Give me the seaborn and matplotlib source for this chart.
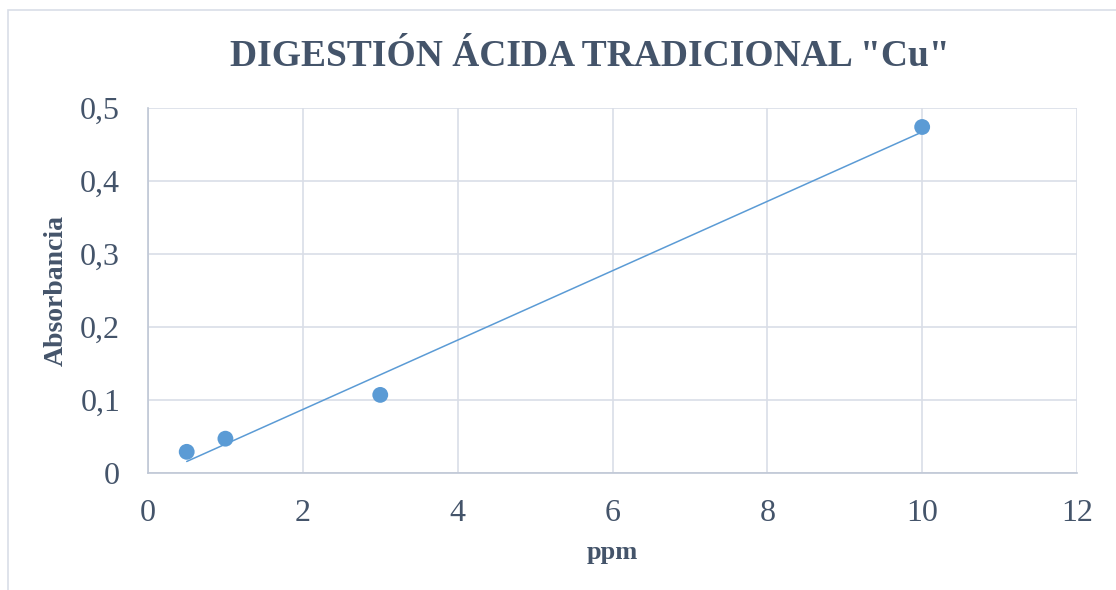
import matplotlib
matplotlib.use("Agg")
import matplotlib.pyplot as plt
import seaborn as sns
import pandas as pd
from matplotlib.patches import Rectangle

ppm = [0.5, 1, 3, 10]
absorbancia = [0.029, 0.047, 0.107, 0.474]
x_ticks = [0, 2, 4, 6, 8, 10, 12]
y_ticks = [0, 0.1, 0.2, 0.3, 0.4, 0.5]
y_tick_labels = ["0", "0,1", "0,2", "0,3", "0,4", "0,5"]
x_tick_labels = ["0", "2", "4", "6", "8", "10", "12"]
title = 'DIGESTIÓN ÁCIDA TRADICIONAL "Cu"'

sns.set_style("white")
plt.rcParams['font.family'] = ['Liberation Serif', 'DejaVu Serif']

df = pd.DataFrame({"ppm": ppm, "Absorbancia": absorbancia})

txt = "#44546A"
grid_c = "#D9DEE7"
blue = "#5B9BD5"

fig = plt.figure(figsize=(11.16, 5.9), dpi=100)
ax = fig.add_axes([148/1116, 1-473/590, (1077-148)/1116, (473-108)/590])

# outer chart border
fig.patches.append(Rectangle((8/1116, -0.1), 1.2, 1-10/590+0.1, transform=fig.transFigure,
                             fill=False, edgecolor="#D9DEE7", linewidth=1.2))

sns.regplot(data=df, x="ppm", y="Absorbancia", ax=ax, ci=None, truncate=True,
            scatter_kws=dict(s=130, color=blue, edgecolor="none", alpha=1, zorder=3),
            line_kws=dict(color=blue, linewidth=1.1, zorder=2))

ax.set_xlim(0, 12)
ax.set_ylim(0, 0.5)
ax.set_xticks(x_ticks)
ax.set_xticklabels(x_tick_labels)
ax.set_yticks(y_ticks)
ax.set_yticklabels(y_tick_labels)
ax.grid(True, color=grid_c, linewidth=1.2)
ax.set_axisbelow(True)
for s in ["top", "right"]:
    ax.spines[s].set_visible(False)
for s in ["left", "bottom"]:
    ax.spines[s].set_color("#BFC7D5")
    ax.spines[s].set_linewidth(1.2)
ax.tick_params(axis="both", length=0, labelsize=23, labelcolor=txt)
ax.tick_params(axis="y", pad=20)
ax.tick_params(axis="x", pad=19)

ax.set_xlabel("ppm", fontsize=19, fontweight="bold", color=txt)
ax.set_ylabel("Absorbancia", fontsize=20, fontweight="bold", color=txt)
ax.xaxis.set_label_coords(612/1116, 1-553/590, transform=fig.transFigure)
ax.yaxis.set_label_coords(56/1116, 1-291/590, transform=fig.transFigure)
ax.xaxis.label.set_va("center")
ax.yaxis.label.set_va("center")

fig.text(590/1116, 1-56/590, title, ha="center", va="center", fontsize=27,
         fontweight="bold", color=txt)

fig.savefig("out.png", dpi=100)
